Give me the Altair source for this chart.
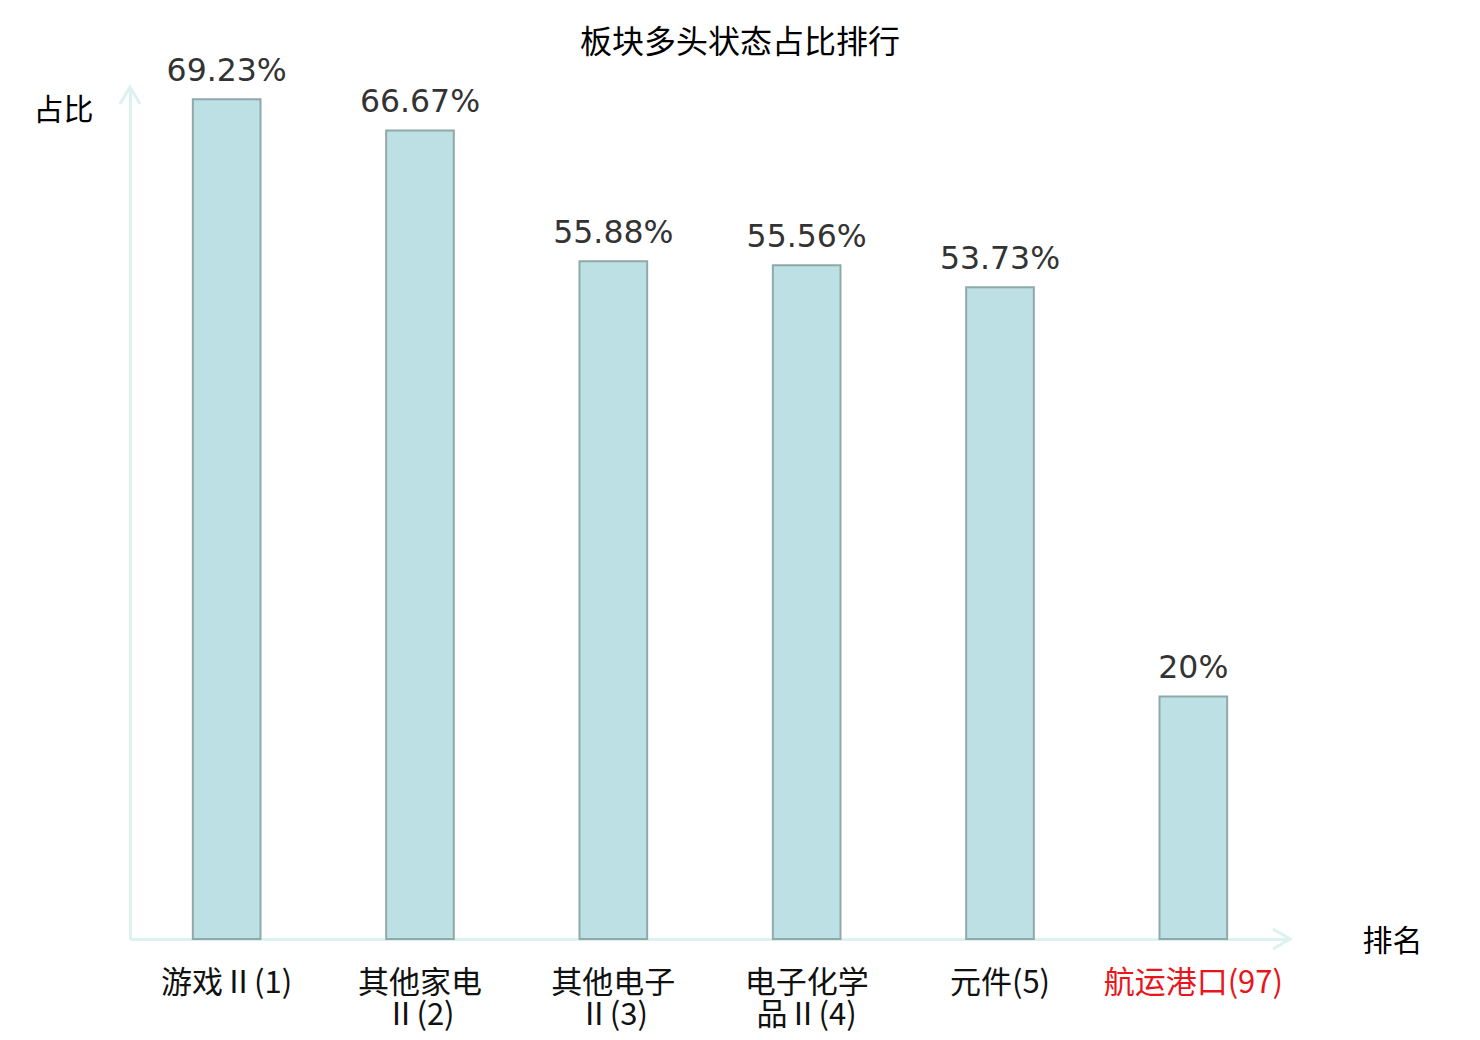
import altair as alt
import pandas as pd

title_text = "板块多头状态占比排行"
categories = ["游戏Ⅱ(1)", "其他家电|Ⅱ(2)", "其他电子|Ⅱ(3)", "电子化学|品Ⅱ(4)", "元件(5)", "航运港口(97)"]
values = [69.23, 66.67, 55.88, 55.56, 53.73, 20]
value_labels = ["69.23%", "66.67%", "55.88%", "55.56%", "53.73%", "20%"]

df = pd.DataFrame({"cat": categories, "val": values, "txt": value_labels})

AXIS_COLOR = "#dcf2ef"
CJK = "Noto Sans CJK SC"

x_enc = alt.X(
    "cat:N",
    sort=None,
    scale=alt.Scale(paddingInner=0.65, paddingOuter=0.325),
    axis=alt.Axis(
        title="排名",
        titleAngle=0,
        titleX=1262,
        titleY=2,
        titleAlign="center",
        titleBaseline="middle",
        titleFont=CJK,
        titleFontSize=30,
        titleFontWeight="normal",
        titleColor="#000000",
        domainColor=AXIS_COLOR,
        domainWidth=3,
        ticks=False,
        tickSize=0,
        grid=False,
        labelAngle=0,
        labelFont=CJK,
        labelFontSize=31,
        labelPadding=29,
        labelLineHeight=32,
        labelBaseline="top",
        labelExpr="split(datum.label, '|')",
        labelColor=alt.condition("indexof(datum.value, '航运港口') >= 0", alt.value("#e8161c"), alt.value("#111111")),
    ),
)

y_enc = alt.Y(
    "val:Q",
    scale=alt.Scale(domain=[0, 70], nice=False, zero=True),
    axis=alt.Axis(
        title="占比",
        titleAngle=0,
        titleX=-67,
        titleY=20,
        titleAlign="center",
        titleBaseline="middle",
        titleFont=CJK,
        titleFontSize=30,
        titleFontWeight="normal",
        titleColor="#000000",
        domainColor=AXIS_COLOR,
        domainWidth=3,
        ticks=False,
        tickSize=0,
        labels=False,
        grid=False,
    ),
)

bars = alt.Chart(df).mark_bar(fill="#bce0e3", stroke="#8fa9aa", strokeWidth=2).encode(x=x_enc, y=y_enc)

texts = alt.Chart(df).mark_text(
    baseline="alphabetic", dy=-18, font="DejaVu Sans", fontSize=31.5, color="#333333"
).encode(x=alt.X("cat:N", sort=None), y="val:Q", text="txt:N")

one = pd.DataFrame({"t": [title_text]})
up_arrow = alt.Chart(one).mark_point(
    shape="M-1,0.85L0,-0.85L1,0.85", filled=False, stroke=AXIS_COLOR, strokeWidth=3, size=400, opacity=1
).encode(x=alt.value(0), y=alt.value(5.5))

right_arrow = alt.Chart(one).mark_point(
    shape="M-0.85,-1L0.85,0L-0.85,1", filled=False, stroke=AXIS_COLOR, strokeWidth=3, size=400, opacity=1
).encode(x=alt.value(1151.5), y=alt.value(849))

title_mark = alt.Chart(one).mark_text(
    font=CJK, fontSize=32, color="#000000", align="center", baseline="middle"
).encode(x=alt.value(610), y=alt.value(-47), text="t:N")

chart = alt.layer(bars, texts, up_arrow, right_arrow, title_mark).properties(
    width=1160,
    height=849,
    background="white",
    autosize=alt.AutoSizeParams(type="none"),
    padding={"left": 122, "top": 82, "right": 170, "bottom": 100},
).configure_view(strokeWidth=0)

chart.save("out.html", embed_options={"renderer": "svg", "actions": False})
